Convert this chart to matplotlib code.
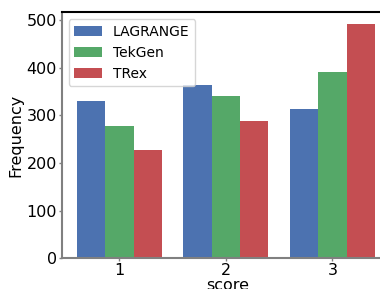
import numpy as np
import matplotlib
matplotlib.use("Agg")
import matplotlib.pyplot as plt

# score kategorileri ve seri değerleri
scores = ["1", "2", "3"]
series_names = ["LAGRANGE", "TekGen", "TRex"]
lagrange = [330, 363, 313]
tekgen = [277, 340, 391]
trex = [227, 288, 492]
colors = ["#4C72B0", "#55A868", "#C44E52"]

fig = plt.figure(figsize=(3.8, 2.89), dpi=100)
ax = fig.add_axes([0.1624, 0.1062, 0.875, 0.8512])

x = np.arange(len(scores))
w = 0.8 / 3
for i, (name, vals, col) in enumerate(zip(series_names, [lagrange, tekgen, trex], colors)):
    ax.bar(x + (i - 1) * w, vals, width=w, color=col, label=name)

ax.set_xlim(-0.541, 2.58)
ax.set_ylim(0, 516.6)
ax.set_xticks(x)
ax.set_xticklabels(scores)
ax.set_yticks([0, 100, 200, 300, 400, 500])
ax.tick_params(axis="both", labelsize=11.5, length=2, width=1, color="gray", pad=1.5)
ax.set_xlabel("score", fontsize=11.5, labelpad=0)
ax.set_ylabel("Frequency", fontsize=11.5, labelpad=2)

ax.spines["right"].set_visible(False)
ax.spines["top"].set_color("black")
ax.spines["top"].set_linewidth(1.5)
for s in ["left", "bottom"]:
    ax.spines[s].set_color("gray")
    ax.spines[s].set_linewidth(1.5)

ax.legend(loc="upper left", fontsize=10, handlelength=2.0)

fig.savefig("out.png", dpi=100)
